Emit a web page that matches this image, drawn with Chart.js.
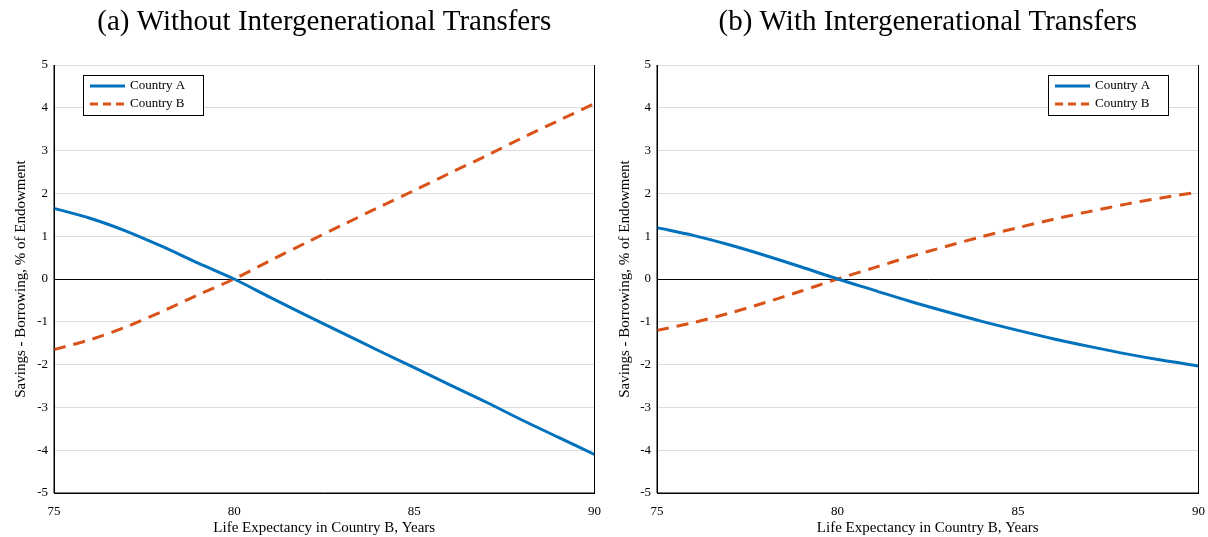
<!DOCTYPE html>
<html><head><meta charset="utf-8">
<script src="https://cdn.jsdelivr.net/npm/chart.js@4/dist/chart.umd.min.js"></script>
<style>
body{margin:0;background:#fff;width:1208px;height:537px;overflow:hidden}
.p{position:absolute;top:0;width:604px;height:537px}
</style></head><body>
<div class="p" style="left:0"><canvas id="c1" width="604" height="537"></canvas></div>
<div class="p" style="left:604px"><canvas id="c2" width="604" height="537"></canvas></div>
<script>
const years = [75,76,77,78,79,80,81,82,83,84,85,86,87,88,89,90];
const noTransA = [1.65,1.42,1.12,0.76,0.37,0,-0.43,-0.85,-1.26,-1.67,-2.07,-2.48,-2.88,-3.3,-3.7,-4.1];
const noTransB = [-1.65,-1.42,-1.12,-0.76,-0.37,0,0.43,0.85,1.26,1.67,2.07,2.48,2.88,3.3,3.7,4.1];
const withTransA = [1.2,1.02,0.8,0.55,0.28,0,-0.26,-0.52,-0.76,-0.99,-1.2,-1.4,-1.58,-1.75,-1.9,-2.03];
const withTransB = [-1.2,-1.02,-0.8,-0.55,-0.28,0,0.26,0.52,0.76,0.99,1.2,1.4,1.58,1.75,1.9,2.03];
const seriesNames = ['Country A','Country B'];
const FONT = '"Liberation Serif", "DejaVu Serif", serif';
const BLUE = '#0072BD', RED = '#D95319';

const boxPlugin = {
  id: 'box',
  afterDraw(chart, args, opts) {
    const c = chart.ctx, a = chart.chartArea;
    c.save();
    // title
    c.fillStyle = '#000';
    c.font = '29px ' + FONT;
    c.textAlign = 'center';
    c.textBaseline = 'middle';
    c.fillText(opts.title, (a.left + a.right) / 2, 22);
    // axes frame
    c.strokeStyle = '#000';
    c.lineWidth = 1;
    c.beginPath();
    c.moveTo(a.left, a.top); c.lineTo(a.left, a.bottom); c.lineTo(a.right, a.bottom); c.lineTo(a.right, a.top);
    c.stroke();
    // x axis title
    c.font = '15px ' + FONT;
    c.fillText('Life Expectancy in Country B, Years', (a.left + a.right) / 2, 528);
    // legend
    const x = a.left + opts.lx, y = a.top + 10, w = 120, h = 40;
    c.fillStyle = '#fff';
    c.fillRect(x, y, w, h);
    c.strokeRect(x + 0.5, y + 0.5, w, h);
    c.font = '13px ' + FONT;
    c.textAlign = 'left';
    seriesNames.forEach((n, i) => {
      const yy = y + 11 + i * 18;
      c.strokeStyle = i ? RED : BLUE;
      c.lineWidth = 3;
      c.setLineDash(i ? [8, 5] : []);
      c.beginPath(); c.moveTo(x + 7, yy); c.lineTo(x + 42, yy); c.stroke();
      c.fillStyle = '#000';
      c.fillText(n, x + 47, yy);
    });
    c.restore();
  }
};

function makeChart(id, title, a, b, lx) {
  return new Chart(document.getElementById(id), {
    type: 'line',
    data: {
      labels: years,
      datasets: [
        {label: seriesNames[0], data: a, borderColor: BLUE, borderWidth: 3, pointRadius: 0, tension: 0.3},
        {label: seriesNames[1], data: b, borderColor: RED, borderWidth: 3, borderDash: [12, 8], pointRadius: 0, tension: 0.3}
      ]
    },
    options: {
      responsive: false, animation: false,
      layout: {padding: {top: 65, right: 9, left: 0, bottom: 0}},
      plugins: {legend: {display: false}, tooltip: {enabled: false}, box: {title: title, lx: lx}},
      scales: {
        x: {
          type: 'category', offset: false,
          grid: {display: false},
          border: {color: '#000'},
          ticks: {color: '#000', font: {family: FONT, size: 13}, maxRotation: 0, autoSkip: false,
            callback: (v, i) => years[i] % 5 === 0 ? years[i] : null},
          afterFit: s => { s.height = 44; }
        },
        y: {
          min: -5, max: 5,
          grid: {color: c => c.tick.value === 0 ? '#000' : '#dcdcdc', tickLength: 0},
          border: {color: '#000'},
          ticks: {stepSize: 1, color: '#000', font: {family: FONT, size: 13}, padding: 6},
          title: {display: true, text: 'Savings - Borrowing, % of Endowment', color: '#000', font: {family: FONT, size: 15}, padding: {top: 12, bottom: 0}},
          afterFit: s => { s.width = id === 'c1' ? 54 : 53; }
        }
      }
    },
    plugins: [boxPlugin]
  });
}
makeChart('c1', '(a) Without Intergenerational Transfers', noTransA, noTransB, 29);
makeChart('c2', '(b) With Intergenerational Transfers', withTransA, withTransB, 391);
</script>
</body></html>
